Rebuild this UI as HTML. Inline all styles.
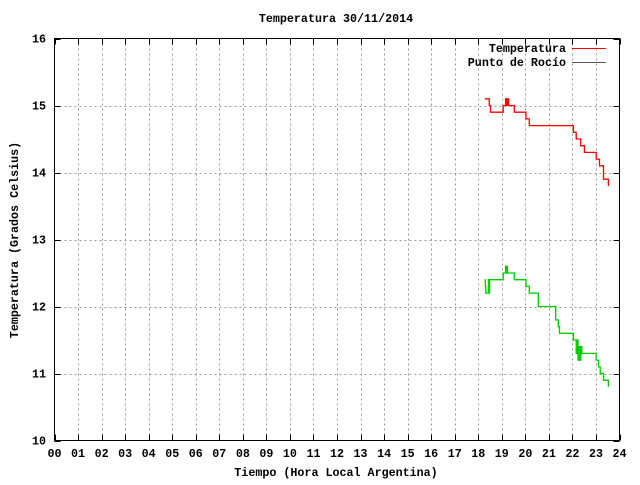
<!DOCTYPE html>
<html><head><meta charset="utf-8"><style>
html,body{margin:0;padding:0;background:#fff;}
svg text{font-family:"Liberation Mono","DejaVu Sans Mono",monospace;font-weight:bold;font-size:11.7px;fill:#000;}
</style></head><body>
<svg id="chart" width="640" height="480" xmlns="http://www.w3.org/2000/svg">
<rect width="640" height="480" fill="#fff"/>
<g id="grid"></g>
<g id="series"></g>
<rect x="54.5" y="38.5" width="565" height="402" fill="none" stroke="#000" stroke-width="1"/>
<g id="axes"></g>
<text x="336" y="22" text-anchor="middle">Temperatura 30/11/2014</text>
<text x="336" y="476" text-anchor="middle">Tiempo (Hora Local Argentina)</text>
<text x="18" y="240" text-anchor="middle" transform="rotate(-90 18 240)">Temperatura (Grados Celsius)</text>
<g>
<text x="566" y="52" text-anchor="end">Temperatura</text>
<line x1="572" y1="48.5" x2="606" y2="48.5" stroke="#f00" stroke-width="1"/>
<text x="566" y="66" text-anchor="end">Punto de Rocío</text>
<line x1="572" y1="62.5" x2="606" y2="62.5" stroke="#555" stroke-width="1"/>
</g>
</svg>
<script>
const xTicks = ["00","01","02","03","04","05","06","07","08","09","10","11","12","13","14","15","16","17","18","19","20","21","22","23","24"];
const yTicks = [10,11,12,13,14,15,16];
const tempTimes = [18.28,18.47,18.52,19.06,19.16,19.19,19.21,19.24,19.26,19.29,19.53,20.03,20.17,22.04,22.16,22.35,22.51,23.01,23.08,23.15,23.32,23.53];
const tempValues = [15.1,15.0,14.9,15.0,15.1,15.0,15.1,15.0,15.1,15.0,14.9,14.8,14.7,14.6,14.5,14.4,14.3,14.2,14.2,14.1,13.9,13.8];
const dewTimes = [18.28,18.30,18.32,18.40,18.43,18.46,18.48,18.52,19.06,19.16,19.18,19.22,19.24,19.29,19.53,20.03,20.17,20.55,21.29,21.40,21.45,22.04,22.16,22.2,22.24,22.28,22.32,22.36,22.40,22.54,23.01,23.11,23.18,23.32,23.53];
const dewValues = [12.4,12.3,12.2,12.2,12.4,12.2,12.4,12.4,12.5,12.6,12.5,12.6,12.5,12.5,12.4,12.3,12.2,12.0,11.8,11.7,11.6,11.5,11.3,11.5,11.2,11.4,11.2,11.4,11.3,11.3,11.2,11.1,11.0,10.9,10.8];

const X0=54.5,X1=619.5,Y0=440.5,Y1=38.5;
const xs=h=>X0+(X1-X0)*h/24;
const ys=v=>Y0-(Y0-Y1)*(v-10)/6;
const NS="http://www.w3.org/2000/svg";
const grid=document.getElementById('grid'),axes=document.getElementById('axes'),series=document.getElementById('series');
function mk(tag,attrs,parent){const e=document.createElementNS(NS,tag);for(const k in attrs)e.setAttribute(k,attrs[k]);parent.appendChild(e);return e;}

xTicks.forEach((t,i)=>{
  const x=Math.round(xs(i))+0.5;
  if(i>0&&i<24){
    const g=mk('line',{x1:x,y1:Y1,x2:x,y2:Y0,stroke:'#999','stroke-dasharray':'2,3','stroke-width':1},grid);
    
    
  }
  const tk=mk('line',{x1:x,y1:Y0,x2:x,y2:Y0-6,stroke:'#000'},axes);
  
  
  const tk2=mk('line',{x1:x,y1:Y1,x2:x,y2:Y1+6,stroke:'#000'},axes);
  
  
  const lb=mk('text',{x:xs(i),y:457,'text-anchor':'middle'},axes);
  lb.textContent=t;
  
  
});
yTicks.forEach(v=>{
  const y=Math.round(ys(v))+0.5;
  if(v>10&&v<16){
    const g=mk('line',{x1:X0,y1:y,x2:X1,y2:y,stroke:'#999','stroke-dasharray':'2,3','stroke-width':1},grid);
    
    
  }
  const tk=mk('line',{x1:X0,y1:y,x2:X0+6,y2:y,stroke:'#000'},axes);
  
  
  const tk2=mk('line',{x1:X1,y1:y,x2:X1-6,y2:y,stroke:'#000'},axes);
  
  
  const lb=mk('text',{x:46,y:ys(v)+4,'text-anchor':'end'},axes);
  lb.textContent=String(v);
  
  
});
function stepPath(t,v){
  let d='M'+xs(t[0]).toFixed(1)+','+ys(v[0]).toFixed(1);
  for(let i=1;i<t.length;i++){
    d+=' H'+xs(t[i]).toFixed(1)+' V'+ys(v[i]).toFixed(1);
  }
  return d;
}
const p1=mk('path',{d:stepPath(tempTimes,tempValues),fill:'none',stroke:'#f00','stroke-width':1.3},series);


const p2=mk('path',{d:stepPath(dewTimes,dewValues),fill:'none',stroke:'#0c0','stroke-width':1.3},series);


</script>
</body></html>
